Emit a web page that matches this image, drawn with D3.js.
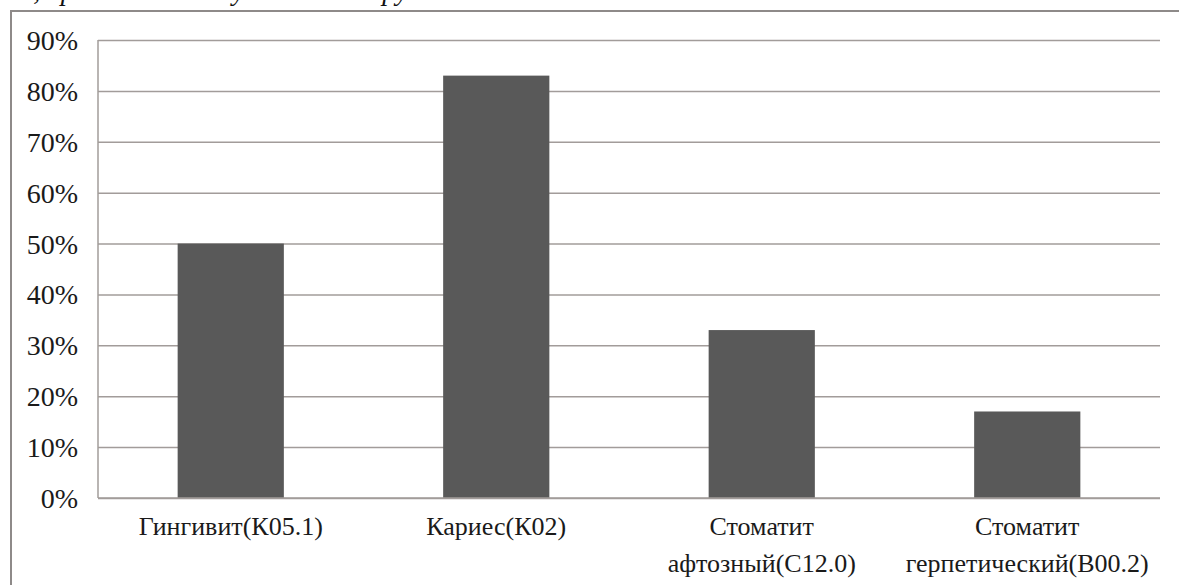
<!DOCTYPE html>
<html>
<head>
<meta charset="utf-8">
<script src="https://cdn.jsdelivr.net/npm/d3@7"></script>
<style>
  html, body { margin: 0; padding: 0; background: #fff; }
  svg { display: block; }
</style>
</head>
<body>
<svg id="chart" width="1179" height="585"></svg>
<script>
const categories = [
  ["Гингивит(К05.1)"],
  ["Кариес(К02)"],
  ["Стоматит", "афтозный(С12.0)"],
  ["Стоматит", "герпетический(В00.2)"]
];
const values = [50, 83, 33, 17];
const yTicks = [0, 10, 20, 30, 40, 50, 60, 70, 80, 90];
const captionFragment = "ч, чрезвычайно обусловлено вирусов";

const svg = d3.select("#chart");
const W = 1179, H = 585;
const plot = { left: 98, right: 1160, top: 40, bottom: 498 };
const FONT = "'Liberation Serif'";

// clipped caption fragment at the very top (cut off in the reference too)
svg.append("text")
  .attr("x", 20).attr("y", 0)
  .style("font-family", FONT)
  .style("font-style", "italic")
  .style("font-size", "28px")
  .attr("fill", "#111")
  .text(captionFragment);

// outer frame
svg.append("rect")
  .attr("x", 11).attr("y", 11)
  .attr("width", W + 20).attr("height", H + 20)
  .attr("fill", "#fff")
  .attr("stroke", "#8e8a89")
  .attr("stroke-width", 2);

const x = d3.scaleBand()
  .domain(categories.map((d, i) => i))
  .range([plot.left, plot.right])
  .paddingInner(0.6)
  .paddingOuter(0.3);

const y = d3.scaleLinear().domain([0, 90]).range([plot.bottom, plot.top]);

// gridlines via axis
const grid = svg.append("g")
  .attr("transform", `translate(${plot.left},0)`)
  .call(d3.axisLeft(y).tickValues(yTicks).tickSize(-(plot.right - plot.left)).tickFormat(""));
grid.select(".domain").remove();
grid.selectAll("line").attr("stroke", "#a29c9a").attr("stroke-width", 1.5);

// y tick labels
const yAxis = svg.append("g")
  .attr("transform", `translate(${plot.left},0)`)
  .attr("font-family", null)
  .attr("font-size", null)
  .call(d3.axisLeft(y).tickValues(yTicks).tickSize(0).tickPadding(20).tickFormat(d => d + "%"));
yAxis.select(".domain").remove();
yAxis.selectAll("text")
  .attr("dy", "0.34em")
  .style("font-family", FONT)
  .style("font-size", "28px")
  .attr("fill", "#1a1a1a");

// left axis line
svg.append("line")
  .attr("x1", plot.left).attr("x2", plot.left)
  .attr("y1", plot.top).attr("y2", plot.bottom)
  .attr("stroke", "#a29c9a").attr("stroke-width", 1.5);

// bars
svg.append("g").selectAll("rect")
  .data(values)
  .join("rect")
  .attr("x", (d, i) => x(i))
  .attr("width", x.bandwidth())
  .attr("y", d => y(d))
  .attr("height", d => y(0) - y(d))
  .attr("fill", "#595959");

// bottom axis line
svg.append("line")
  .attr("x1", plot.left).attr("x2", plot.right)
  .attr("y1", plot.bottom).attr("y2", plot.bottom)
  .attr("stroke", "#a29c9a").attr("stroke-width", 1.5);

// category labels
const labels = svg.append("g").selectAll("text")
  .data(categories)
  .join("text")
  .attr("x", (d, i) => x(i) + x.bandwidth() / 2)
  .attr("y", 535)
  .attr("text-anchor", "middle")
  .style("font-family", FONT)
  .style("font-size", "26px")
  .attr("fill", "#1a1a1a");
labels.each(function(lines) {
  const t = d3.select(this);
  lines.forEach((ln, k) => {
    t.append("tspan")
      .attr("x", t.attr("x"))
      .attr("dy", k === 0 ? 0 : 37)
      .text(ln);
  });
});
</script>
</body>
</html>
